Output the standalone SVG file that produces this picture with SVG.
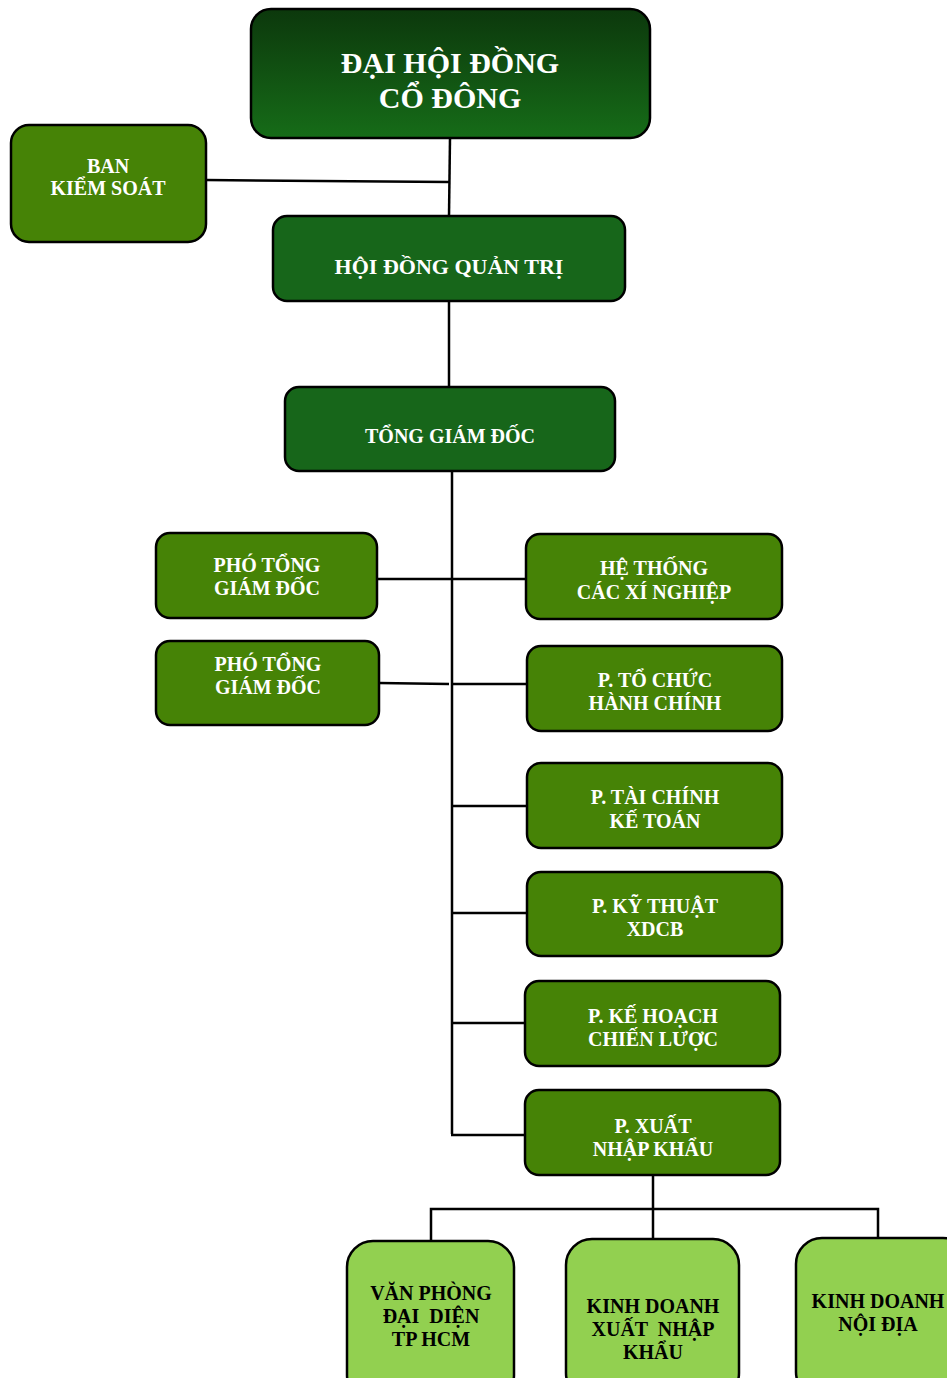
<svg xmlns="http://www.w3.org/2000/svg" width="947" height="1378" viewBox="0 0 947 1378">
<defs>
<linearGradient id="topg" x1="0" y1="0" x2="0" y2="1">
<stop offset="0" stop-color="#0c380c"/>
<stop offset="1" stop-color="#166c18"/>
</linearGradient>
<style>
.box{stroke:#000;stroke-width:2.5}
.dark{fill:#17661a}
.mid{fill:#468306}
.light{fill:#92d050}
text{font-family:'Liberation Serif','DejaVu Serif',serif;font-weight:bold;font-size:20px;text-anchor:middle;fill:#fff}
.big{font-size:30px}
.mdm{font-size:22px}
.tb{fill:#000}
.c{stroke:#000;stroke-width:2.5;fill:none}
</style>
</defs>
<rect width="947" height="1378" fill="#fff"/>
<g id="connectors">
<path class="c" d="M450,138 L449,216"/>
<path class="c" d="M206,180 L449,182"/>
<path class="c" d="M449,301 L449,387"/>
<path class="c" d="M452,471 L452,1134"/>
<path class="c" d="M377,579 L527,579"/>
<path class="c" d="M379,683 L449,684"/>
<path class="c" d="M452,684 L527,684"/>
<path class="c" d="M452,806 L527,806"/>
<path class="c" d="M452,913 L527,913"/>
<path class="c" d="M452,1023 L525,1023"/>
<path class="c" d="M451,1135 L525,1135"/>
<path class="c" d="M653,1175 L653,1239"/>
<path class="c" d="M431,1241 L431,1209 L878,1209 L878,1238"/>
</g>
<g id="dhdcd">
<rect class="box" x="251" y="9" width="399" height="129" rx="20" fill="url(#topg)"/>
<text class="big" x="450" y="73">ĐẠI HỘI ĐỒNG</text>
<text class="big" x="450" y="108">CỔ ĐÔNG</text>
</g>
<g id="bks">
<rect class="box mid" x="11" y="125" width="195" height="117" rx="18"/>
<text x="108" y="173">BAN</text>
<text x="108" y="195">KIỂM SOÁT</text>
</g>
<g id="hdqt">
<rect class="box dark" x="273" y="216" width="352" height="85" rx="14"/>
<text class="mdm" x="449" y="274">HỘI ĐỒNG QUẢN TRỊ</text>
</g>
<g id="tgd">
<rect class="box dark" x="285" y="387" width="330" height="84" rx="14"/>
<text x="450" y="443">TỔNG GIÁM ĐỐC</text>
</g>
<g id="ptgd1">
<rect class="box mid" x="156" y="533" width="221" height="85" rx="14"/>
<text x="267" y="572">PHÓ TỔNG</text>
<text x="267" y="595">GIÁM ĐỐC</text>
</g>
<g id="ptgd2">
<rect class="box mid" x="156" y="641" width="223" height="84" rx="14"/>
<text x="268" y="671">PHÓ TỔNG</text>
<text x="268" y="694">GIÁM ĐỐC</text>
</g>
<g id="htxn">
<rect class="box mid" x="526" y="534" width="256" height="85" rx="14"/>
<text x="654" y="575">HỆ THỐNG</text>
<text x="654" y="599">CÁC XÍ NGHIỆP</text>
</g>
<g id="tchc">
<rect class="box mid" x="527" y="646" width="255" height="85" rx="14"/>
<text x="655" y="687">P. TỔ CHỨC</text>
<text x="655" y="710">HÀNH CHÍNH</text>
</g>
<g id="tckt">
<rect class="box mid" x="527" y="763" width="255" height="85" rx="14"/>
<text x="655" y="804">P. TÀI CHÍNH</text>
<text x="655" y="828">KẾ TOÁN</text>
</g>
<g id="ktxdcb">
<rect class="box mid" x="527" y="872" width="255" height="84" rx="14"/>
<text x="655" y="913">P. KỸ THUẬT</text>
<text x="655" y="936">XDCB</text>
</g>
<g id="khcl">
<rect class="box mid" x="525" y="981" width="255" height="85" rx="14"/>
<text x="653" y="1023">P. KẾ HOẠCH</text>
<text x="653" y="1046">CHIẾN LƯỢC</text>
</g>
<g id="xnk">
<rect class="box mid" x="525" y="1090" width="255" height="85" rx="14"/>
<text x="653" y="1133">P. XUẤT</text>
<text x="653" y="1156">NHẬP KHẨU</text>
</g>
<g id="vpdd">
<rect class="box light" x="347" y="1241" width="167" height="160" rx="26"/>
<text class="tb" x="431" y="1300">VĂN PHÒNG</text>
<text class="tb" x="431" y="1323" xml:space="preserve">ĐẠI  DIỆN</text>
<text class="tb" x="431" y="1346">TP HCM</text>
</g>
<g id="kdxnk">
<rect class="box light" x="566" y="1239" width="173" height="160" rx="26"/>
<text class="tb" x="653" y="1313">KINH DOANH</text>
<text class="tb" x="653" y="1336" xml:space="preserve">XUẤT  NHẬP</text>
<text class="tb" x="653" y="1359">KHẨU</text>
</g>
<g id="kdnd">
<rect class="box light" x="796" y="1238" width="173" height="160" rx="26"/>
<text class="tb" x="878" y="1308">KINH DOANH</text>
<text class="tb" x="878" y="1331">NỘI ĐỊA</text>
</g>
</svg>
